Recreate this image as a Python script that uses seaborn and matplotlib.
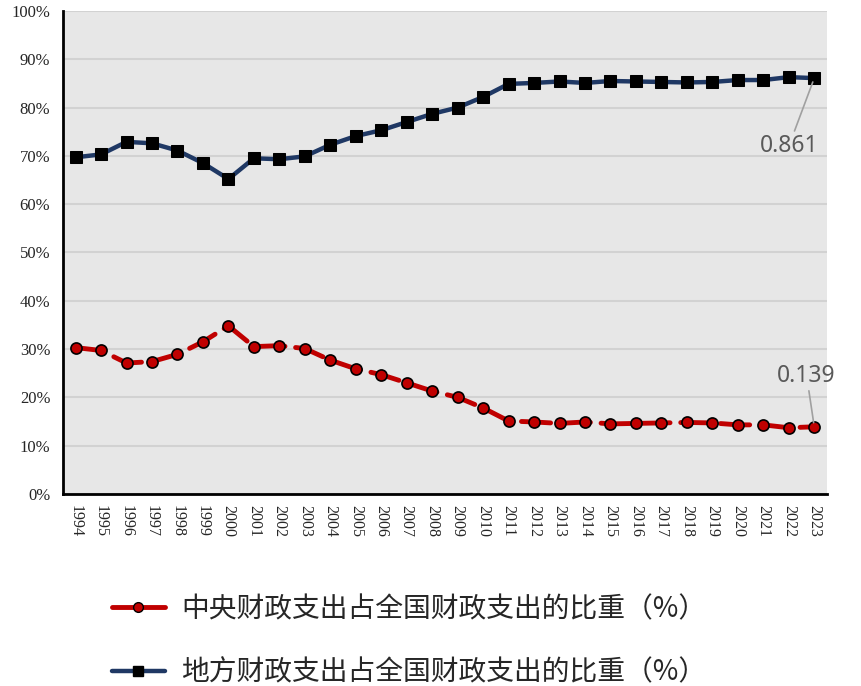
import numpy as np
import pandas as pd
import matplotlib
matplotlib.use('Agg')
import matplotlib.pyplot as plt
from matplotlib.ticker import FuncFormatter, FixedLocator
from matplotlib.lines import Line2D
import seaborn as sns

# Data (shares of national fiscal expenditure)
years = list(range(1994, 2024))
central_share = [0.303, 0.297, 0.271, 0.274, 0.289, 0.315, 0.348, 0.305, 0.307, 0.301,
                 0.277, 0.259, 0.247, 0.230, 0.213, 0.200, 0.178, 0.151, 0.149, 0.146,
                 0.149, 0.145, 0.146, 0.147, 0.148, 0.147, 0.143, 0.143, 0.137, 0.139]
local_share = [0.697, 0.703, 0.729, 0.726, 0.711, 0.685, 0.652, 0.695, 0.693, 0.699,
               0.723, 0.741, 0.753, 0.770, 0.787, 0.800, 0.822, 0.849, 0.851, 0.854,
               0.851, 0.855, 0.854, 0.853, 0.852, 0.853, 0.857, 0.857, 0.863, 0.861]
central_label = '中央财政支出占全国财政支出的比重（%）'
local_label = '地方财政支出占全国财政支出的比重（%）'

df = pd.DataFrame({'year': years, 'central': central_share, 'local': local_share})

sns.set_style('white')
plt.rcParams['font.family'] = ['Liberation Serif', 'Noto Sans CJK SC', 'DejaVu Sans']

fig = plt.figure(figsize=(8.61, 6.86), dpi=100)
ax = fig.add_axes([0.073, 0.280, 0.8875, 0.704])
ax.set_facecolor('#e7e7e7')

red = '#c00000'
navy = '#1f3864'

sns.lineplot(data=df, x='year', y='central', ax=ax, color=red, linewidth=3.5,
             marker='o', markersize=8, markerfacecolor=red, markeredgecolor='black',
             markeredgewidth=1.2, dashes=False, zorder=3)
ax.lines[-1].set_dashes((6, 2.2))
ax.lines[-1].set_dash_capstyle('round')
sns.lineplot(data=df, x='year', y='local', ax=ax, color=navy, linewidth=3.2,
             marker='s', markersize=8, markerfacecolor='black', markeredgecolor='black',
             zorder=3)

ax.set_xlim(1993.5, 2023.5)
ax.set_ylim(0, 1.0)
ax.set_yticks(np.arange(0, 1.01, 0.1))
ax.yaxis.set_major_formatter(FuncFormatter(lambda v, p: f'{v*100:.0f}%'))
ax.grid(axis='y', color='#d2d2d2', linewidth=1.5)
ax.grid(axis='x', visible=False)
ax.set_axisbelow(True)

ax.set_xticks(years)
ax.set_xticklabels([str(y) for y in years], rotation=-90, fontsize=11.5)
ax.xaxis.set_minor_locator(FixedLocator(np.arange(1994.5, 2023.5, 1)))
ax.tick_params(axis='x', which='major', length=0, pad=8)
ax.tick_params(axis='x', which='minor', direction='in', length=5, width=1.5, color='black')
ax.tick_params(axis='y', which='major', direction='out', length=5, width=1.5,
               color='black', labelsize=12, pad=4)
ax.set_xlabel('')
ax.set_ylabel('')

for side in ['top', 'right']:
    ax.spines[side].set_visible(False)
for side in ['left', 'bottom']:
    ax.spines[side].set_color('black')
    ax.spines[side].set_linewidth(2)

# end-point annotations
ax.annotate(f'{local_share[-1]:.3f}', xy=(years[-1], local_share[-1]),
            xytext=(years[-1] - 1.0, 0.695), textcoords='data',
            ha='center', va='bottom', fontsize=16.5, color='#595959',
            family=['Noto Sans', 'DejaVu Sans'],
            arrowprops=dict(arrowstyle='-', color='#a0a0a0', lw=1.2, shrinkA=0, shrinkB=3))
ax.annotate(f'{central_share[-1]:.3f}', xy=(years[-1], central_share[-1]),
            xytext=(years[-1] - 0.3, 0.27), textcoords='data',
            ha='center', va='top', fontsize=16.5, color='#595959',
            family=['Noto Sans', 'DejaVu Sans'],
            arrowprops=dict(arrowstyle='-', color='#a0a0a0', lw=1.2, shrinkA=0, shrinkB=3))

handles = [
    Line2D([], [], color=red, linewidth=3.5, marker='o', markersize=7,
           markerfacecolor=red, markeredgecolor='black'),
    Line2D([], [], color=navy, linewidth=3.2, marker='s', markersize=7,
           markerfacecolor='black', markeredgecolor='black'),
]
fig.legend(handles, [central_label, local_label], loc='upper left',
           bbox_to_anchor=(0.117, 0.150), frameon=False, handlelength=1.9,
           handletextpad=0.6, labelspacing=1.2, borderaxespad=0,
           prop={'family': ['Noto Sans CJK SC'], 'size': 20})

fig.savefig('out.png', dpi=100)
